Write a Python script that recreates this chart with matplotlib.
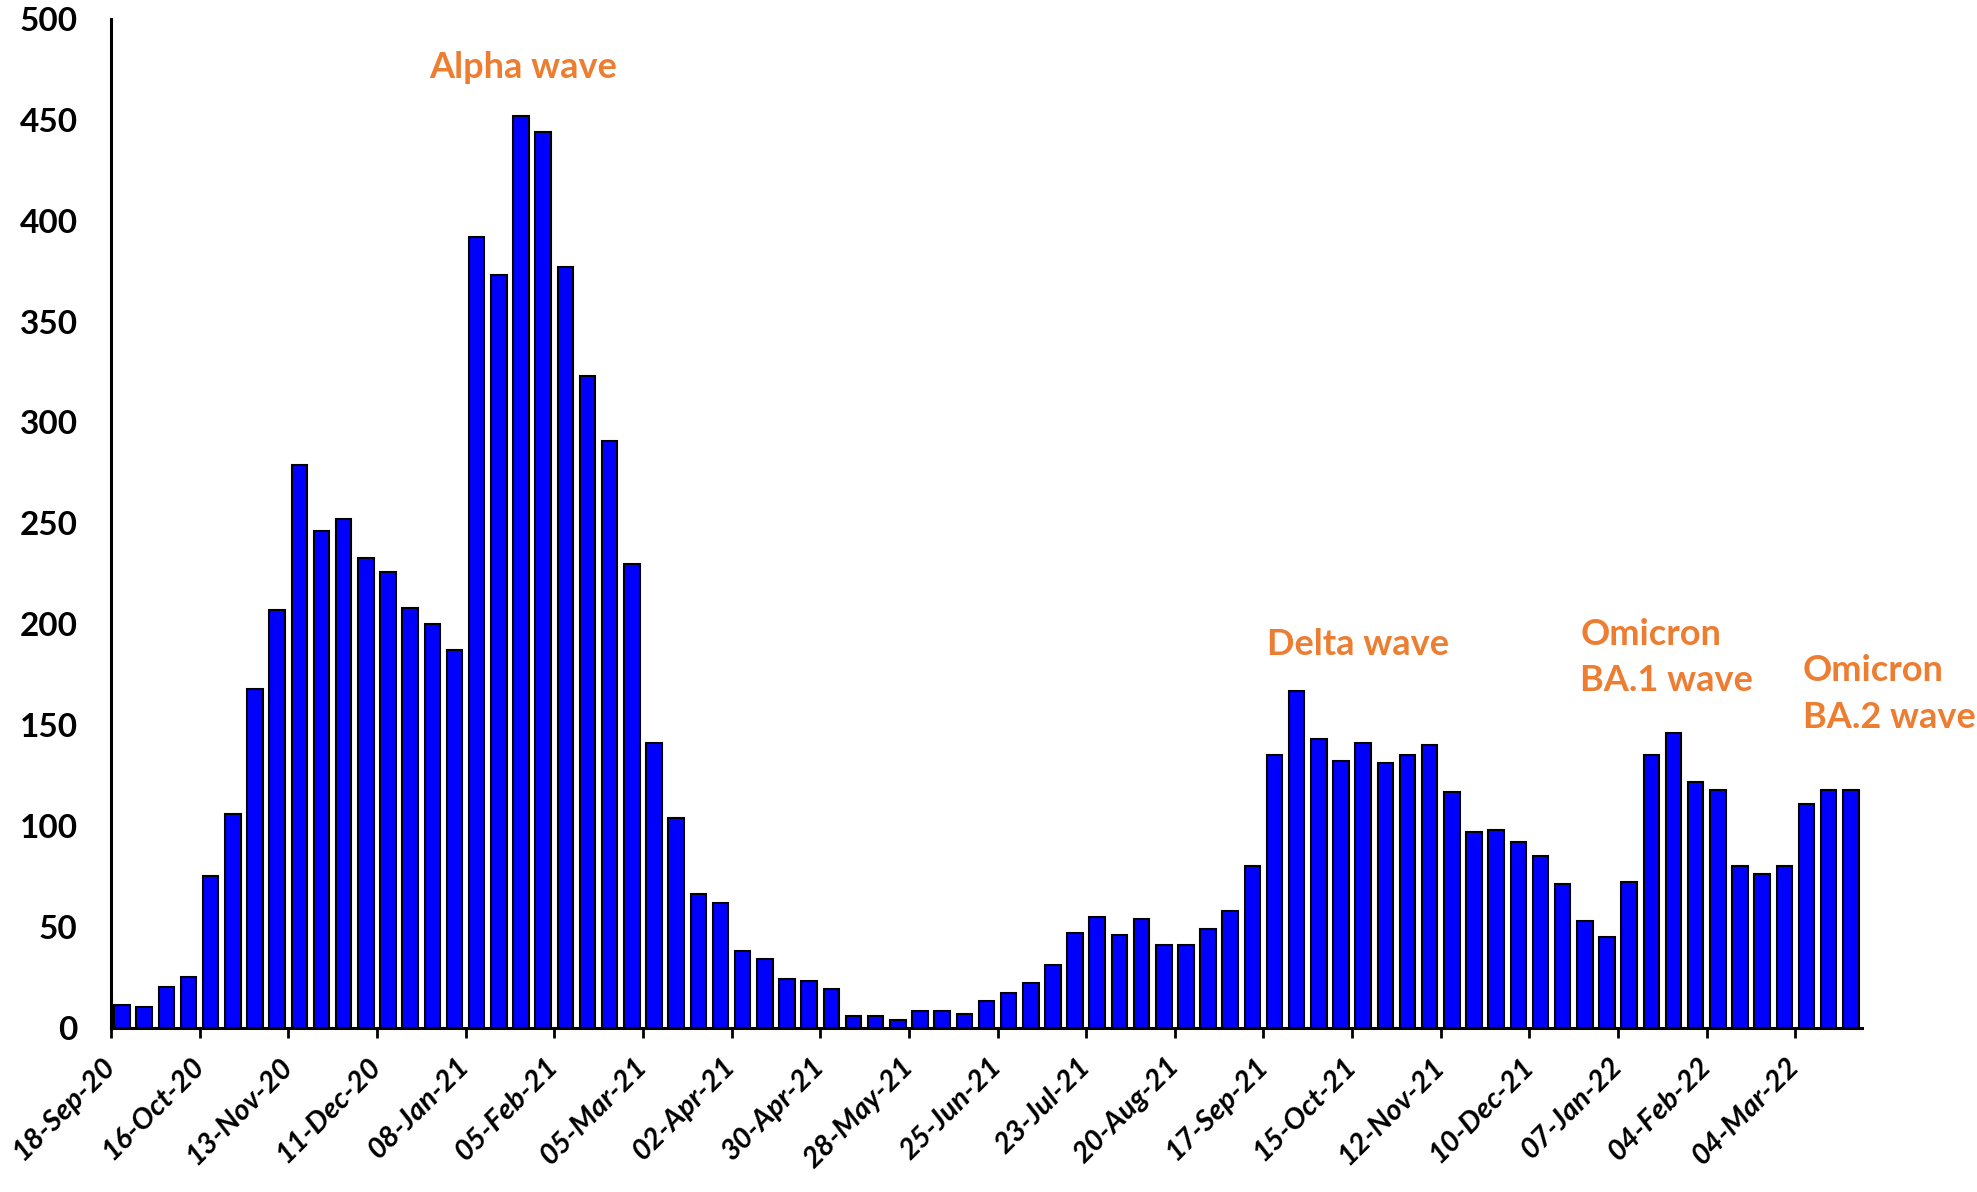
import matplotlib
matplotlib.use("Agg")
import matplotlib.pyplot as plt
import numpy as np

plt.rcParams['font.family'] = ['Lato', 'DejaVu Sans']

# weekly counts, first week 18-Sep-20
week_values = [11, 10, 20, 25, 75, 106, 168, 207, 279, 246, 252, 233, 226, 208, 200, 187,
               392, 373, 452, 444, 377, 323, 291, 230, 141, 104, 66, 62, 38, 34, 24, 23,
               19, 6, 6, 4, 8, 8, 7, 13, 17, 22, 31, 47, 55, 46, 54, 41,
               41, 49, 58, 80, 135, 167, 143, 132, 141, 131, 135, 140, 117, 97, 98, 92,
               85, 71, 53, 45, 72, 135, 146, 122, 118, 80, 76, 80, 111, 118, 118]

tick_labels = ['18-Sep-20', '16-Oct-20', '13-Nov-20', '11-Dec-20', '08-Jan-21', '05-Feb-21',
               '05-Mar-21', '02-Apr-21', '30-Apr-21', '28-May-21', '25-Jun-21', '23-Jul-21',
               '20-Aug-21', '17-Sep-21', '15-Oct-21', '12-Nov-21', '10-Dec-21', '07-Jan-22',
               '04-Feb-22', '04-Mar-22']

# wave labels: text, week index (left edge), y value (centre)
wave_labels = ['Alpha wave', 'Delta wave', 'Omicron\nBA.1 wave', 'Omicron\nBA.2 wave']
wave_x = [13.85, 51.65, 65.8, 75.84]
wave_y = [476, 190, 183.5, 165.4]

orange = '#ED7D31'

fig = plt.figure(figsize=(19.77, 11.92), dpi=100)
ax = fig.add_axes([0.0561, 0.1379, 0.8857, 0.8462])

x = np.arange(len(week_values))
ax.bar(x, week_values, width=0.7, color='#0000FF', edgecolor='black', linewidth=1.5)

ax.set_xlim(-0.5, len(week_values) - 0.5)
ax.set_ylim(0, 500)

ax.set_xticks(np.arange(len(tick_labels)) * 4 - 0.5)
ax.set_xticklabels(tick_labels, rotation=45, ha='right', va='center', rotation_mode='anchor',
                   fontsize=21, fontweight='bold', fontstyle='italic')
ax.set_yticks(range(0, 501, 50))
ax.set_yticklabels([str(v) for v in range(0, 501, 50)], fontsize=24, fontweight='bold')

ax.tick_params(axis='x', length=7, width=2, direction='out', pad=18)
ax.tick_params(axis='y', length=0, pad=24)

for side in ['top', 'right']:
    ax.spines[side].set_visible(False)
ax.spines['left'].set_linewidth(2.2)
ax.spines['bottom'].set_linewidth(2.2)

for label, lx, ly in zip(wave_labels, wave_x, wave_y):
    ax.text(lx, ly, label, color=orange, fontsize=26, fontweight='bold',
            ha='left', va='center', linespacing=1.5)

fig.savefig('out.png', dpi=100)
